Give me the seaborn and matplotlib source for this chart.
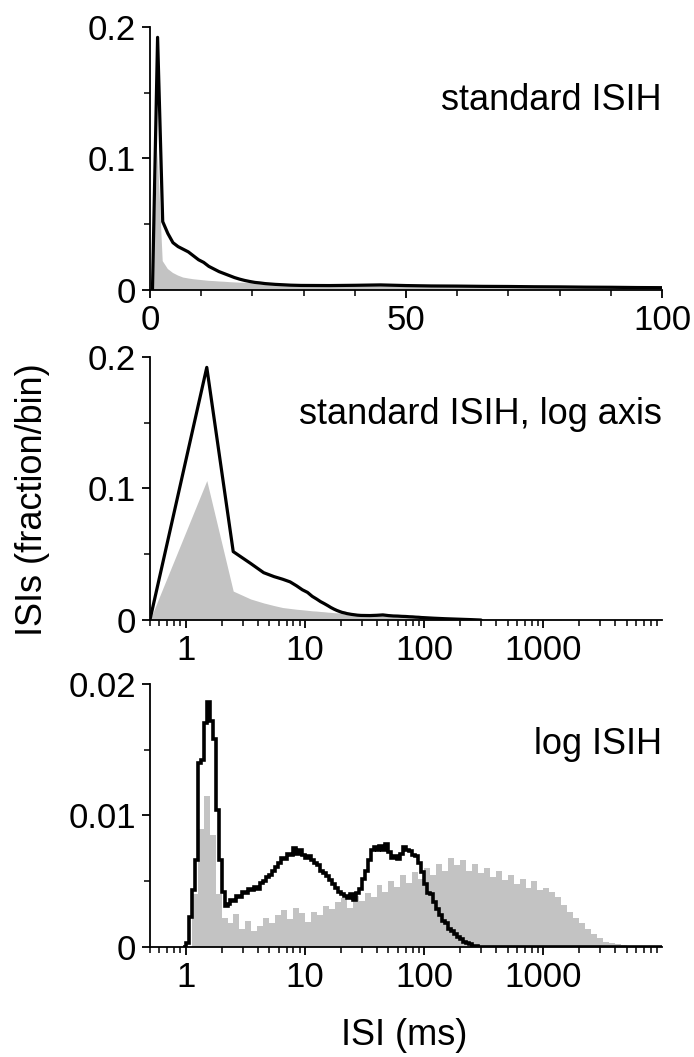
import numpy as np
import matplotlib
matplotlib.use("Agg")
import matplotlib.pyplot as plt
import seaborn as sns
import pandas as pd

# ---------------- data ----------------
# Standard ISIH (1 ms bins) - bin centres (ms)
std_centers = [0.5, 1.5, 2.5, 3.5, 4.5, 5.5, 6.5, 7.5, 8.5, 9.5,
               10.5, 11.5, 12.5, 13.5, 14.5, 15.5, 16.5, 17.5, 18.5, 19.5,
               20.5, 21.5, 22.5, 23.5, 24.5, 25.5, 26.5, 27.5, 28.5, 29.5,
               35, 40, 45, 50, 55, 60, 65, 70, 75, 80, 85, 90, 95, 100,
               120, 150, 200, 250, 300]
std_black = [0.0, 0.192, 0.052, 0.043, 0.036, 0.033, 0.031, 0.029, 0.026, 0.023,
             0.021, 0.018, 0.016, 0.014, 0.0125, 0.011, 0.0095, 0.0083, 0.0073, 0.0065,
             0.0058, 0.0054, 0.0049, 0.0046, 0.0043, 0.0041, 0.0039, 0.0037, 0.0036, 0.0035,
             0.0034, 0.0036, 0.0039, 0.0034, 0.0031, 0.0030, 0.0028, 0.0027, 0.0025, 0.0024,
             0.0022, 0.0021, 0.0019, 0.0018,
             0.0014, 0.0010, 0.0006, 0.0003, 0.0]
grey_centers = std_centers + [400, 600, 1000, 2000]
std_grey = [0.0, 0.106, 0.022, 0.016, 0.013, 0.011, 0.0095, 0.0088, 0.0082, 0.0078,
            0.0074, 0.0070, 0.0068, 0.0065, 0.0063, 0.0060, 0.0058, 0.0056, 0.0055, 0.0054,
            0.0052, 0.0051, 0.0050, 0.0049, 0.0048, 0.0047, 0.0046, 0.0045, 0.0044, 0.0043,
            0.0040, 0.0038, 0.0036, 0.0034, 0.0032, 0.0031, 0.0030, 0.0029, 0.0028, 0.0027,
            0.0026, 0.0025, 0.0025, 0.0024,
            0.0020, 0.0017, 0.0013, 0.0010, 0.0008,
            0.0006, 0.0004, 0.0002, 0.0]

# Log ISIH - black: 40 bins per decade starting at 1 ms
black_bins_per_decade = 40
log_black = [0.0003, 0.0023, 0.0043, 0.0066, 0.0140, 0.0142, 0.0170, 0.0186, 0.0172, 0.0158,
             0.0104, 0.0066, 0.0042, 0.0031, 0.0033, 0.0036, 0.0035, 0.0039, 0.0038, 0.0042,
             0.0041, 0.0044, 0.0043, 0.0046, 0.0044, 0.0049, 0.0050, 0.0053, 0.0055, 0.0058,
             0.0061, 0.0064, 0.0068, 0.0067, 0.0071, 0.0070, 0.0075, 0.0071, 0.0074, 0.0070,
             0.0068, 0.0069, 0.0066, 0.0064, 0.0062, 0.0058, 0.0056, 0.0054, 0.0051, 0.0048,
             0.0045, 0.0042, 0.0040, 0.0039, 0.0037, 0.0040, 0.0036, 0.0041, 0.0044, 0.0052,
             0.0058, 0.0066, 0.0074, 0.0076, 0.0074, 0.0077, 0.0074, 0.0078, 0.0072, 0.0068,
             0.0069, 0.0067, 0.0071, 0.0076, 0.0074, 0.0073, 0.0070, 0.0069, 0.0064, 0.0057,
             0.0048, 0.0041, 0.0040, 0.0034, 0.0029, 0.0024, 0.0020, 0.0018, 0.0014, 0.0012,
             0.0010, 0.0008, 0.0006, 0.0004, 0.0003, 0.0002, 0.0001, 0.00005]

# Log ISIH - grey: 20 bins per decade starting at 1 ms
grey_bins_per_decade = 20
log_grey = [0.0, 0.0040, 0.0090, 0.0115, 0.0085, 0.0040, 0.0022, 0.0018, 0.0025, 0.0014,
            0.0020, 0.0012, 0.0016, 0.0022, 0.0018, 0.0024, 0.0028, 0.0021, 0.0030, 0.0026,
            0.0019, 0.0027, 0.0024, 0.0031, 0.0029, 0.0034, 0.0037, 0.0030, 0.0039, 0.0035,
            0.0041, 0.0038, 0.0047, 0.0042, 0.0050, 0.0046, 0.0055, 0.0049, 0.0057, 0.0052,
            0.0060, 0.0055, 0.0063, 0.0058, 0.0068, 0.0062, 0.0066, 0.0058, 0.0063, 0.0056,
            0.0060, 0.0053, 0.0058, 0.0051, 0.0055, 0.0048, 0.0052, 0.0045, 0.0050, 0.0043,
            0.0045, 0.0042, 0.0038, 0.0032, 0.0027, 0.0022, 0.0018, 0.0014, 0.0010, 0.0007,
            0.0004, 0.0003, 0.0002, 0.00015, 0.0001, 0.00008, 0.00005, 0.0]

panel_texts = ["standard ISIH", "standard ISIH, log axis", "log ISIH"]
ylabel = "ISIs (fraction/bin)"
xlabel = "ISI (ms)"

# ---------------- style ----------------
sns.set_theme(style="ticks")
plt.rcParams['font.family'] = ['Liberation Sans', 'DejaVu Sans']
plt.rcParams['axes.linewidth'] = 1.3
plt.rcParams['text.color'] = 'black'
plt.rcParams['axes.labelcolor'] = 'black'
plt.rcParams['xtick.color'] = 'black'
plt.rcParams['ytick.color'] = 'black'
plt.rcParams['axes.edgecolor'] = 'black'
GREY = "#c3c3c3"
TICK_FS = 25
TXT_FS = 26

fig = plt.figure(figsize=(6.94, 10.57), dpi=100)
left, width, height = 0.216, 0.738, 0.249
ax1 = fig.add_axes([left, 0.7256, width, height])
ax2 = fig.add_axes([left, 0.4134, width, height])
ax3 = fig.add_axes([left, 0.1040, width, height])

df_std = pd.DataFrame({"isi": std_centers, "frac": std_black})
df_grey = pd.DataFrame({"isi": grey_centers, "frac": std_grey})

def style_axis(ax):
    sns.despine(ax=ax)
    ax.tick_params(axis='both', which='major', direction='out', length=6, width=1.3,
                   labelsize=TICK_FS, pad=4, color='black', labelcolor='black')
    ax.tick_params(axis='both', which='minor', direction='out', length=4, width=1.1,
                   color='black')
    ax.set_xlabel("")
    ax.set_ylabel("")
    ax.set_facecolor("white")

# ---- panel 1: standard ISIH ----
ax1.fill_between(df_grey["isi"], 0, df_grey["frac"], color=GREY, linewidth=0, zorder=1)
sns.lineplot(data=df_std, x="isi", y="frac", ax=ax1, color="black", linewidth=2.3,
             zorder=3, errorbar=None)
ax1.set_xlim(0, 100)
ax1.set_ylim(0, 0.2)
ax1.set_xticks([0, 50, 100])
ax1.set_xticklabels(["0", "50", "100"])
ax1.set_xticks(np.arange(10, 100, 10), minor=True)
ax1.set_yticks([0, 0.1, 0.2])
ax1.set_yticklabels(["0", "0.1", "0.2"])
ax1.set_yticks([0.05, 0.15], minor=True)
style_axis(ax1)
ax1.text(1.0, 0.722, panel_texts[0], transform=ax1.transAxes, ha='right', va='center',
         fontsize=TXT_FS, color='black')

# ---- panel 2: standard ISIH, log axis ----
ax2.set_xscale('log')
ax2.fill_between(df_grey["isi"], 0, df_grey["frac"], color=GREY, linewidth=0, zorder=1)
sns.lineplot(data=df_std, x="isi", y="frac", ax=ax2, color="black", linewidth=2.3,
             zorder=3, errorbar=None)
ax2.set_xlim(0.5, 9900)
ax2.set_ylim(0, 0.2)
ax2.set_yticks([0, 0.1, 0.2])
ax2.set_yticklabels(["0", "0.1", "0.2"])
ax2.set_yticks([0.05, 0.15], minor=True)

def log_ticks(ax):
    ax.xaxis.set_major_locator(matplotlib.ticker.FixedLocator([1, 10, 100, 1000]))
    ax.xaxis.set_major_formatter(matplotlib.ticker.FixedFormatter(["1", "10", "100", "1000"]))
    ax.xaxis.set_minor_locator(matplotlib.ticker.LogLocator(base=10, subs=np.arange(2, 10), numticks=20))
    ax.xaxis.set_minor_formatter(matplotlib.ticker.NullFormatter())

log_ticks(ax2)
style_axis(ax2)
ax2.text(1.0, 0.78, panel_texts[1], transform=ax2.transAxes, ha='right', va='center',
         fontsize=TXT_FS, color='black')

# ---- panel 3: log ISIH ----
ax3.set_xscale('log')
grey_edges = 10 ** (np.arange(len(log_grey) + 1) / grey_bins_per_decade)
black_edges = 10 ** (np.arange(len(log_black) + 1) / black_bins_per_decade)
ax3.stairs(log_grey, grey_edges, fill=True, color=GREY, linewidth=0, zorder=1)
black_vals = [0.0] + log_black + [0.0]
black_all_edges = np.concatenate([[0.95], black_edges, [9900]])
ax3.stairs(black_vals, black_all_edges, color="black", linewidth=2.6, zorder=3,
           baseline=None)
ax3.set_xlim(0.5, 9900)
ax3.set_ylim(0, 0.02)
ax3.set_yticks([0, 0.01, 0.02])
ax3.set_yticklabels(["0", "0.01", "0.02"])
ax3.set_yticks([0.005, 0.015], minor=True)
log_ticks(ax3)
style_axis(ax3)
ax3.text(1.0, 0.768, panel_texts[2], transform=ax3.transAxes, ha='right', va='center',
         fontsize=TXT_FS, color='black')

fig.text(0.0475, 0.527, ylabel, rotation=90, ha='center', va='center', fontsize=TXT_FS,
         color='black')
fig.text(0.582, 0.020, xlabel, ha='center', va='center', fontsize=TXT_FS, color='black')

fig.savefig("out.png", dpi=100, facecolor="white")
